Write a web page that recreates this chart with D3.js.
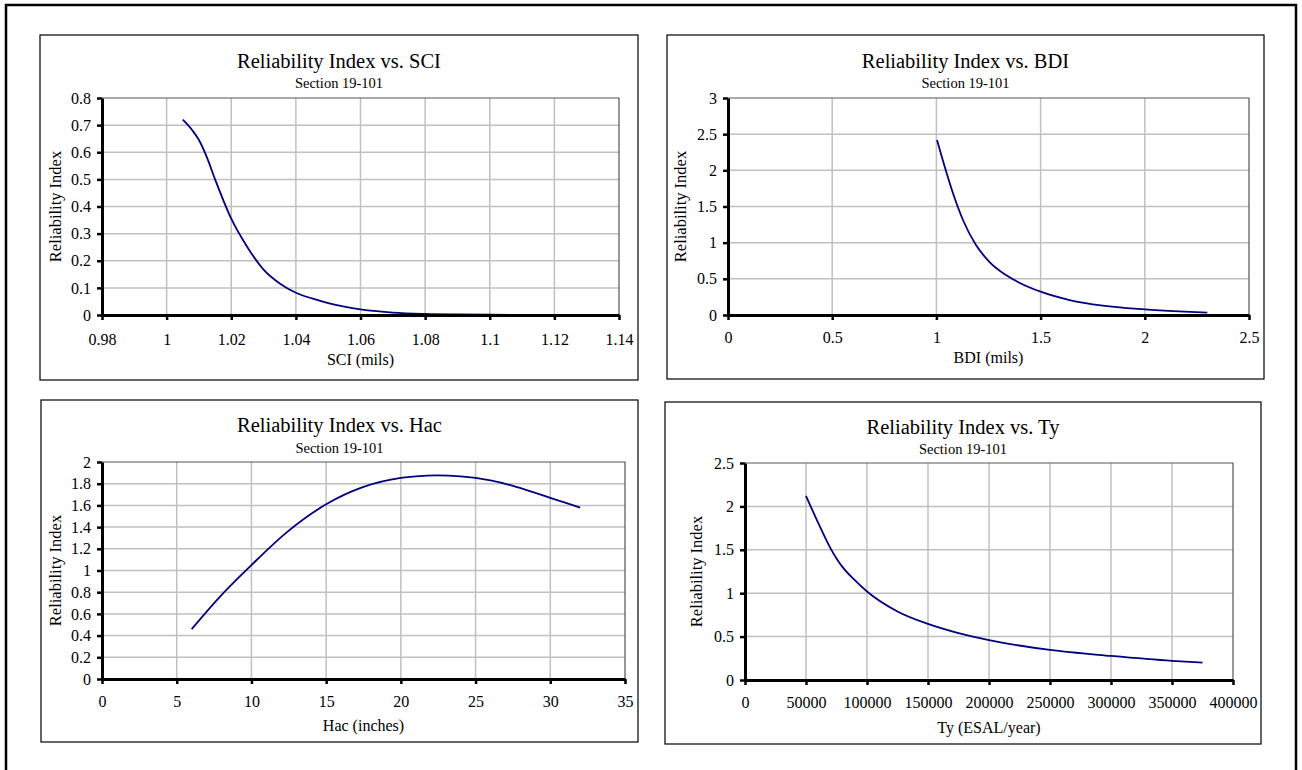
<!DOCTYPE html>
<html>
<head>
<meta charset="utf-8">
<script src="https://cdn.jsdelivr.net/npm/d3@7"></script>
<style>
  body { margin: 0; background: #fff; }
  svg text { font-family: "Liberation Serif", "Times New Roman", serif; fill: #000; }
</style>
</head>
<body>
<div id="chart"></div>
<script>
// ---- data ----
var sci_x = [1.005, 1.008, 1.01, 1.0125, 1.015, 1.02, 1.025, 1.03, 1.035, 1.04, 1.045, 1.05, 1.055, 1.06, 1.065, 1.07, 1.08, 1.09, 1.1, 1.11, 1.12, 1.13];
var sci_ri = [0.72, 0.68, 0.645, 0.58, 0.5, 0.355, 0.25, 0.167, 0.116, 0.082, 0.061, 0.044, 0.031, 0.021, 0.014, 0.009, 0.004, 0.002, 0.001, 0.0005, 0.0002, 0.0001];

var bdi_x = [1.003, 1.04, 1.08, 1.128, 1.19, 1.254, 1.334, 1.398, 1.5, 1.639, 1.798, 2.0, 2.164, 2.3];
var bdi_ri = [2.42, 2.05, 1.68, 1.31, 0.967, 0.736, 0.552, 0.446, 0.322, 0.207, 0.129, 0.078, 0.05, 0.032];

var hac_x = [6, 7.9, 10, 12.3, 15, 17.5, 20, 21, 22.4, 24, 25, 26, 27.5, 29, 30, 31, 32];
var hac_ri = [0.46, 0.76, 1.05, 1.345, 1.61, 1.77, 1.853, 1.868, 1.877, 1.868, 1.853, 1.83, 1.78, 1.715, 1.67, 1.625, 1.58];

var ty_x = [50000, 60000, 70000, 75000, 80000, 90000, 100000, 125000, 150000, 175000, 200000, 250000, 300000, 350000, 375000];
var ty_ri = [2.12, 1.81, 1.52, 1.40, 1.30, 1.15, 1.02, 0.79, 0.646, 0.54, 0.46, 0.346, 0.277, 0.22, 0.2];

var sci_ticks_x = [0.98, 1, 1.02, 1.04, 1.06, 1.08, 1.1, 1.12, 1.14];
var sci_ticks_y = [0, 0.1, 0.2, 0.3, 0.4, 0.5, 0.6, 0.7, 0.8];
var bdi_ticks_x = [0, 0.5, 1, 1.5, 2, 2.5];
var bdi_ticks_y = [0, 0.5, 1, 1.5, 2, 2.5, 3];
var hac_ticks_x = [0, 5, 10, 15, 20, 25, 30, 35];
var hac_ticks_y = [0, 0.2, 0.4, 0.6, 0.8, 1, 1.2, 1.4, 1.6, 1.8, 2];
var ty_ticks_x = [0, 50000, 100000, 150000, 200000, 250000, 300000, 350000, 400000];
var ty_ticks_y = [0, 0.5, 1, 1.5, 2, 2.5];

var titles = ["Reliability Index vs. SCI", "Reliability Index vs. BDI", "Reliability Index vs. Hac", "Reliability Index vs. Ty"];
var x_titles = ["SCI (mils)", "BDI (mils)", "Hac (inches)", "Ty (ESAL/year)"];
var subtitle = "Section 19-101";
var y_title = "Reliability Index";

// ---- layout of each panel (box + plot area, page pixels) ----
var panels = [
  {box: [40, 35, 638, 380], plot: [102, 98, 619, 315], titleY: 61, subY: 83, xTitleY: 359, yTitleX: 55, xPad: 14,
   xs: sci_x, ys: sci_ri, tx: sci_ticks_x, ty: sci_ticks_y},
  {box: [667, 35, 1264, 379], plot: [728, 98, 1249, 315], titleY: 61, subY: 83, xTitleY: 357, yTitleX: 680, xPad: 12,
   xs: bdi_x, ys: bdi_ri, tx: bdi_ticks_x, ty: bdi_ticks_y},
  {box: [41, 400, 638, 742], plot: [102, 462, 625, 679], titleY: 425, subY: 448, xTitleY: 725, yTitleX: 55, xPad: 12,
   xs: hac_x, ys: hac_ri, tx: hac_ticks_x, ty: hac_ticks_y},
  {box: [665, 402, 1261, 744], plot: [745, 463, 1233, 680], titleY: 427, subY: 449, xTitleY: 727, yTitleX: 696, xPad: 12,
   xs: ty_x, ys: ty_ri, tx: ty_ticks_x, ty: ty_ticks_y}
];

var width = 1302, height = 770;

var svg = d3.select("#chart").append("svg")
    .attr("width", width)
    .attr("height", height);

// outer frame (runs off the bottom of the page)
svg.append("path")
    .attr("d", "M6," + (height + 5) + "V5H1296V" + (height + 5))
    .attr("fill", "none")
    .attr("stroke", "#000")
    .attr("stroke-width", 2.5);

var fmt = function(d) { return String(+d.toFixed(4)); };

panels.forEach(function(p, i) {
  var g = svg.append("g");

  g.append("rect")
      .attr("x", p.box[0]).attr("y", p.box[1])
      .attr("width", p.box[2] - p.box[0]).attr("height", p.box[3] - p.box[1])
      .attr("fill", "#fff").attr("stroke", "#000").attr("stroke-width", 1.2);

  var x = d3.scaleLinear().domain(d3.extent(p.tx)).range([p.plot[0], p.plot[2]]);
  var y = d3.scaleLinear().domain(d3.extent(p.ty)).range([p.plot[3], p.plot[1]]);

  // gridlines
  g.append("g").selectAll("line.vg").data(p.tx.slice(1, -1)).enter().append("line")
      .attr("x1", function(d) { return x(d); }).attr("x2", function(d) { return x(d); })
      .attr("y1", p.plot[1]).attr("y2", p.plot[3])
      .attr("stroke", "#c0c0c0").attr("stroke-width", 1.5);
  g.append("g").selectAll("line.hg").data(p.ty.slice(1, -1)).enter().append("line")
      .attr("y1", function(d) { return y(d); }).attr("y2", function(d) { return y(d); })
      .attr("x1", p.plot[0]).attr("x2", p.plot[2])
      .attr("stroke", "#c0c0c0").attr("stroke-width", 1.5);

  // plot area border top/right
  g.append("path")
      .attr("d", "M" + p.plot[0] + "," + p.plot[1] + "H" + p.plot[2] + "V" + p.plot[3])
      .attr("fill", "none").attr("stroke", "#555").attr("stroke-width", 1.2);

  // the curve (smoothed like the spreadsheet line)
  var line = d3.line()
      .x(function(d) { return x(d[0]); })
      .y(function(d) { return y(d[1]); })
      .curve(d3.curveMonotoneX);
  g.append("path")
      .datum(d3.zip(p.xs, p.ys))
      .attr("d", line)
      .attr("fill", "none").attr("stroke", "#000080").attr("stroke-width", 1.8);

  // axes
  var xAxis = g.append("g")
      .attr("transform", "translate(0," + p.plot[3] + ")")
      .call(d3.axisBottom(x).tickValues(p.tx).tickFormat(fmt).tickSize(5).tickSizeOuter(0).tickPadding(p.xPad));
  var yAxis = g.append("g")
      .attr("transform", "translate(" + p.plot[0] + ",0)")
      .call(d3.axisLeft(y).tickValues(p.ty).tickFormat(fmt).tickSize(5).tickSizeOuter(0).tickPadding(6));

  [xAxis, yAxis].forEach(function(a) {
    a.select(".domain").attr("stroke", "#000").attr("stroke-width", 3);
    a.selectAll(".tick line").attr("stroke", "#000").attr("stroke-width", 2.5);
    a.selectAll(".tick text")
        .style("font-family", "'Liberation Serif', serif")
        .style("font-size", "16px").attr("fill", "#000");
  });

  // titles
  g.append("text")
      .attr("x", (p.box[0] + p.box[2]) / 2).attr("y", p.titleY)
      .attr("dy", "0.35em").attr("text-anchor", "middle")
      .style("font-size", "20.5px")
      .text(titles[i]);
  g.append("text")
      .attr("x", (p.box[0] + p.box[2]) / 2).attr("y", p.subY)
      .attr("dy", "0.35em").attr("text-anchor", "middle")
      .style("font-size", "14.5px")
      .text(subtitle);
  g.append("text")
      .attr("x", (p.plot[0] + p.plot[2]) / 2).attr("y", p.xTitleY)
      .attr("dy", "0.35em").attr("text-anchor", "middle")
      .style("font-size", "16px")
      .text(x_titles[i]);
  g.append("text")
      .attr("transform", "translate(" + p.yTitleX + "," + ((p.plot[1] + p.plot[3]) / 2) + ") rotate(-90)")
      .attr("dy", "0.35em").attr("text-anchor", "middle")
      .style("font-size", "16.5px")
      .text(y_title);
});
</script>
</body>
</html>
